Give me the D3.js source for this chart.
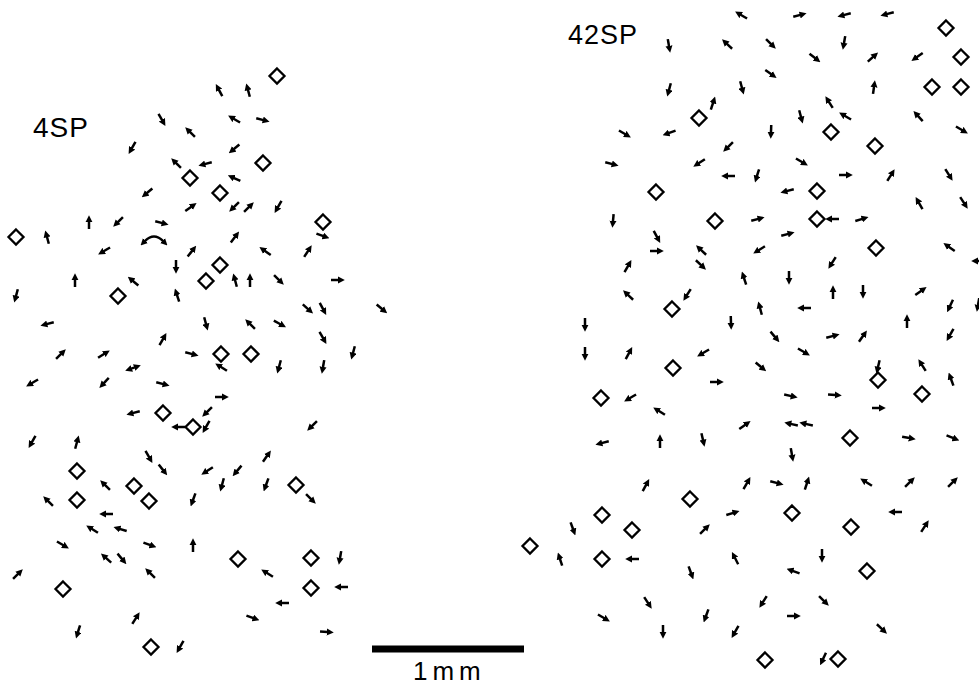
<!DOCTYPE html>
<html lang="en">
<head>
<meta charset="utf-8">
<title>4SP / 42SP</title>
<script src="https://d3js.org/d3.v7.min.js"></script>
<style type="text/css">
body { margin: 0; background: #fff; }
text {
	font-family: "Liberation Sans", Arial, Helvetica, sans-serif;
	fill: #000;
}
</style>
</head>
<body>
<div id="chart"></div>
<script type="text/javascript">
// digitised site coordinates (1 mm = 152 units), arrows: [x, y, direction deg, 0 = right, 90 = up]
var arrows4SP = [
	[162,120,300],[190,132,135],[132,148,240],[176,163,135],[147,193,220],[191,207,35],
	[47,237,105],[89,222,90],[118,222,225],[162,223,345],[104,251,210],[192,251,52],
	[176,267,270],[219,90,118],[248,90,105],[234,119,150],[263,120,345],[234,149,220],
	[205,164,195],[234,178,155],[234,207,225],[249,207,45],[278,207,240],[323,236,340],
	[235,237,53],[265,251,145],[308,251,57],[75,280,90],[133,281,140],[16,296,255],
	[177,295,108],[235,280,105],[250,280,90],[279,280,315],[338,280,0],[47,324,195],
	[163,339,60],[192,354,345],[61,354,45],[104,354,32],[32,383,210],[104,383,227],
	[163,384,345],[133,413,195],[178,427,180],[32,442,240],[77,442,75],[149,457,300],
	[163,470,308],[308,309,318],[323,309,298],[382,309,320],[206,324,285],[250,324,135],
	[280,324,332],[323,338,300],[221,367,148],[279,367,255],[323,367,260],[353,353,255],
	[222,397,0],[207,412,225],[206,427,240],[312,426,225],[267,456,55],[105,485,135],
	[48,501,135],[193,500,250],[106,514,180],[92,529,148],[120,529,163],[63,545,330],
	[150,545,340],[193,545,90],[18,574,45],[106,558,138],[122,559,310],[150,573,135],
	[136,618,58],[78,632,253],[180,647,240],[207,471,213],[237,471,230],[222,485,255],
	[266,485,250],[311,499,315],[340,558,260],[267,573,148],[341,587,180],[282,603,180],
	[253,618,340],[327,632,355]
];
var diamonds4SP = [
	[277,76],[263,163],[190,178],[220,193],[16,237],[323,222],[220,265],[206,281],
	[118,296],[221,354],[251,354],[163,413],[193,427],[77,471],[134,486],[77,500],
	[149,501],[63,589],[151,647],[296,485],[238,559],[311,558],[311,588]
];
var curved4SP = [[154,238]];
var double4SP = [[133,368,20]];

var arrows42SP = [
	[741,15,150],[669,46,280],[727,44,137],[669,90,255],[742,88,285],[713,103,72],
	[625,134,330],[669,133,200],[728,147,225],[612,164,345],[699,163,213],[728,176,180],
	[613,221,265],[800,15,15],[844,15,195],[887,14,195],[771,44,315],[844,43,260],
	[815,58,322],[873,57,42],[917,57,215],[771,74,325],[874,87,82],[829,102,122],
	[845,116,150],[801,117,285],[918,116,132],[771,132,268],[962,130,330],[802,162,330],
	[846,175,0],[891,175,58],[757,176,253],[949,175,302],[787,191,195],[919,203,120],
	[964,203,303],[758,219,15],[832,219,180],[862,219,17],[657,237,298],[657,251,0],
	[701,250,137],[628,266,60],[701,265,317],[744,278,108],[628,295,137],[687,295,238],
	[585,325,270],[731,323,272],[585,354,270],[629,353,62],[703,353,210],[717,382,0],
	[630,398,210],[659,411,148],[745,425,35],[602,443,195],[660,441,90],[703,440,283],
	[788,234,15],[759,250,212],[949,247,145],[978,261,180],[832,263,238],[789,278,270],
	[833,292,90],[863,292,270],[921,291,35],[950,306,245],[978,305,260],[760,308,105],
	[804,308,180],[907,321,90],[775,337,310],[833,336,15],[863,336,55],[950,335,240],
	[804,352,330],[761,367,320],[878,367,257],[922,365,122],[951,379,110],[791,396,348],
	[835,395,355],[879,408,0],[791,424,168],[806,424,168],[909,438,350],[953,438,338],
	[792,455,280],[646,485,62],[747,483,60],[573,529,290],[733,513,17],[705,529,45],
	[560,559,108],[632,559,180],[735,558,117],[691,573,290],[648,603,303],[604,618,330],
	[663,632,270],[706,616,250],[735,632,240],[777,483,345],[807,483,72],[866,482,148],
	[910,482,45],[953,482,45],[895,512,180],[925,526,57],[822,556,270],[793,571,160],
	[763,602,238],[824,601,315],[794,616,0],[882,629,317],[823,659,245]
];
var diamonds42SP = [
	[699,118],[656,192],[715,221],[946,28],[961,57],[932,87],[961,87],[831,132],
	[875,146],[817,191],[817,219],[876,248],[672,309],[673,368],[601,398],[878,380],
	[922,394],[850,438],[690,499],[602,515],[632,530],[530,546],[602,559],[792,513],
	[851,527],[867,571],[765,660],[838,659]
];

var panelNames = ["4SP", "42SP"];
var unitsPerMm = 152;
var scaleBarMm = 1;
var scaleBarLabel = "1mm";

//Width and height
var w = 979;
var h = 687;

var xScale = d3.scaleLinear().domain([0, 979]).range([0, w]);
var yScale = d3.scaleLinear().domain([0, 687]).range([0, h]);

var svg = d3.select("#chart")
	.append("svg")
	.attr("width", w)
	.attr("height", h);

// arrow head
svg.append("defs").append("marker")
	.attr("id", "head")
	.attr("viewBox", "0 0 10 10")
	.attr("refX", 1)
	.attr("refY", 5)
	.attr("markerWidth", 7)
	.attr("markerHeight", 7.5)
	.attr("markerUnits", "userSpaceOnUse")
	.attr("orient", "auto-start-reverse")
	.append("path")
	.attr("d", "M0,0L10,5L0,10Z")
	.attr("fill", "#000");

function drawArrows(data) {
	svg.append("g").selectAll("line")
		.data(data)
		.enter()
		.append("line")
		.attr("transform", d => "translate(" + xScale(d[0]) + "," + yScale(d[1]) + ") rotate(" + (-d[2]) + ")")
		.attr("x1", -7)
		.attr("x2", 0.5)
		.attr("stroke", "#000")
		.attr("stroke-width", 2.5)
		.attr("marker-end", "url(#head)");
}

function drawDiamonds(data) {
	svg.append("g").selectAll("path")
		.data(data)
		.enter()
		.append("path")
		.attr("transform", d => "translate(" + xScale(d[0]) + "," + yScale(d[1]) + ")")
		.attr("d", "M0,-7.5L7.5,0L0,7.5L-7.5,0Z")
		.attr("fill", "none")
		.attr("stroke", "#000")
		.attr("stroke-width", 2.3);
}

drawArrows(arrows4SP);
drawDiamonds(diamonds4SP);
drawArrows(arrows42SP);
drawDiamonds(diamonds42SP);

// curved two-way arrow
svg.append("g").selectAll("path")
	.data(curved4SP)
	.enter()
	.append("path")
	.attr("transform", d => "translate(" + xScale(d[0]) + "," + yScale(d[1]) + ")")
	.attr("d", "M-9,3Q0,-6 9,3")
	.attr("fill", "none")
	.attr("stroke", "#000")
	.attr("stroke-width", 2.5)
	.attr("marker-start", "url(#head)")
	.attr("marker-end", "url(#head)");

// straight two-way arrow
svg.append("g").selectAll("line")
	.data(double4SP)
	.enter()
	.append("line")
	.attr("transform", d => "translate(" + xScale(d[0]) + "," + yScale(d[1]) + ") rotate(" + (-d[2]) + ")")
	.attr("x1", -2)
	.attr("x2", 2)
	.attr("stroke", "#000")
	.attr("stroke-width", 2.5)
	.attr("marker-start", "url(#head)")
	.attr("marker-end", "url(#head)");

// panel labels
svg.append("text")
	.attr("x", xScale(33))
	.attr("y", yScale(137))
	.attr("font-size", "28px")
	.attr("letter-spacing", "1px")
	.text(panelNames[0]);

svg.append("text")
	.attr("x", xScale(568))
	.attr("y", yScale(44))
	.attr("font-size", "27px")
	.attr("letter-spacing", "1px")
	.text(panelNames[1]);

// scale bar
var barX = 372;
svg.append("rect")
	.attr("x", xScale(barX))
	.attr("y", yScale(645.5))
	.attr("width", xScale(barX + scaleBarMm * unitsPerMm) - xScale(barX))
	.attr("height", 7)
	.attr("fill", "#000");

svg.append("text")
	.attr("x", xScale(413))
	.attr("y", yScale(680))
	.attr("font-size", "26px")
	.attr("letter-spacing", "5px")
	.text(scaleBarLabel);
</script>
</body>
</html>
